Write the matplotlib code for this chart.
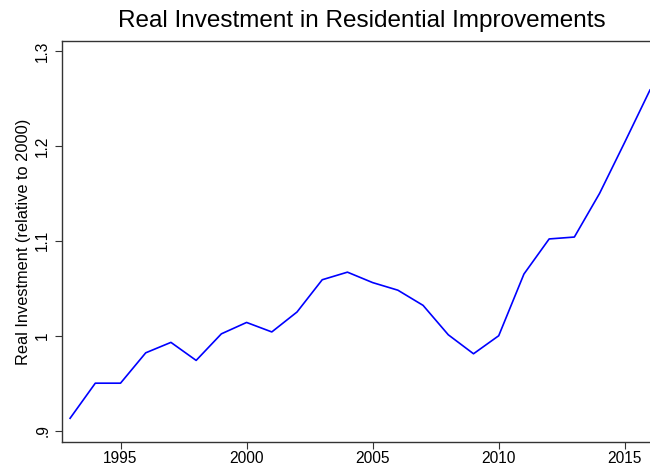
import matplotlib
matplotlib.use("Agg")
import matplotlib.pyplot as plt

# Datos
years = list(range(1993, 2017))
investment = [0.913, 0.950, 0.950, 0.982, 0.993, 0.974, 1.002, 1.014, 1.004, 1.025,
              1.059, 1.067, 1.056, 1.048, 1.032, 1.001, 0.981, 1.000, 1.065, 1.102,
              1.104, 1.150, 1.204, 1.259]
x_ticks = [1995, 2000, 2005, 2010, 2015]
y_ticks = [0.9, 1.0, 1.1, 1.2, 1.3]
y_tick_labels = [".9", "1", "1.1", "1.2", "1.3"]

plt.rcParams["font.family"] = ["Liberation Sans", "DejaVu Sans"]

fig = plt.figure(figsize=(6.5, 4.67), dpi=100)
ax = fig.add_axes([0.0954, 0.0535, 0.9046, 0.8585])

ax.plot(years, investment, color="#0000ff", linewidth=1.2)

ax.set_xlim(1992.68, 2016)
ax.set_ylim(0.888, 1.3105)
ax.set_xticks(x_ticks)
ax.set_yticks(y_ticks)
ax.set_yticklabels(y_tick_labels, rotation=90, va="center")

ax.tick_params(axis="both", direction="out", length=5, width=0.8,
               color="#333333", labelsize=11.2, labelcolor="black")
ax.tick_params(axis="x", pad=1.5)
for side in ["left", "bottom", "top"]:
    ax.spines[side].set_color("#333333")
    ax.spines[side].set_linewidth(1.0)
ax.spines["right"].set_visible(False)

ax.set_ylabel("Real Investment (relative to 2000)", fontsize=11.8, labelpad=3)
fig.text(0.556, 0.955, "Real Investment in Residential Improvements",
         fontsize=17.5, ha="center", va="center")

fig.savefig("out.png", dpi=100)
